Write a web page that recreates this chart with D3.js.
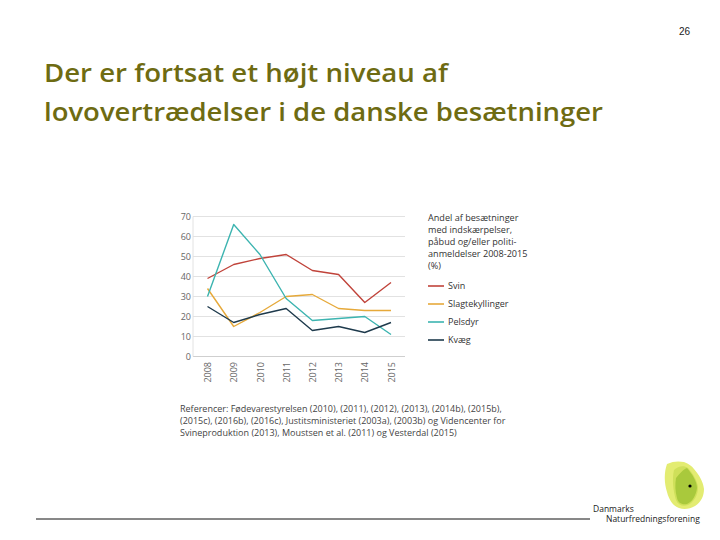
<!DOCTYPE html>
<html><head><meta charset="utf-8">
<script src="https://cdn.jsdelivr.net/npm/d3@7"></script>
<style>body{margin:0;background:#fff;} svg{display:block;}</style>
</head><body>
<svg id="c" width="720" height="540"></svg>
<script>
const years = ["2008","2009","2010","2011","2012","2013","2014","2015"];
const yTicks = [0,10,20,30,40,50,60,70];
const svin = [39,46,49,51,43,41,27,37];
const slagtekyllinger = [34,15,22,30,31,24,23,23];
const pelsdyr = [30,66,51,29,18,19,20,11];
const kvaeg = [25,17,21,24,13,15,12,17];
const seriesNames = ["Svin","Slagtekyllinger","Pelsdyr","Kvæg"];
const seriesColors = ["#c0433a","#e6a93a","#3cb4b0","#1e3a4c"];
const legendTitle = ["Andel af besætninger","med indskærpelser,","påbud og/eller politi-","anmeldelser 2008-2015","(%)"];
const references = ["Referencer: Fødevarestyrelsen (2010), (2011), (2012), (2013), (2014b), (2015b),",
 "(2015c), (2016b), (2016c), Justitsministeriet (2003a), (2003b) og Videncenter for",
 "Svineproduktion (2013), Moustsen et al. (2011) og Vesterdal (2015)"];
const titleLines = ["Der er fortsat et højt niveau af","lovovertrædelser i de danske besætninger"];

const svg = d3.select("#c");
const font = "'Open Sans', 'Noto Sans', sans-serif";

// page number
svg.append("text").attr("x",690).attr("y",35).attr("text-anchor","end")
  .attr("font-family","Liberation Sans, Arial, sans-serif").attr("font-size",10).attr("fill","#222").text("26");

// title
const tcol = "#6e6b12";
titleLines.forEach((t,i)=>{
  const el = svg.append("text").attr("x",44).attr("y",82+i*39)
    .attr("font-family","'Open Sans', 'Noto Sans', sans-serif").attr("font-size",25)
    .attr("font-weight","600").attr("fill",tcol).text(t);
  const target = i===0 ? 404 : 559;
  el.attr("textLength",target).attr("lengthAdjust","spacingAndGlyphs");
});

// chart
const x = d3.scalePoint().domain(years).range([207.5,391]);
const y = d3.scaleLinear().domain([0,70]).range([356.5,216.5]);

const g = svg.append("g");
g.selectAll("line.grid").data(yTicks).join("line").attr("class","grid")
  .attr("x1",193).attr("x2",405).attr("y1",d=>y(d)).attr("y2",d=>y(d))
  .attr("stroke",d=>d===0?"#cfcfcf":"#e2e2e2").attr("stroke-width",1);
g.append("line").attr("x1",193).attr("x2",193).attr("y1",y(70)).attr("y2",y(0))
  .attr("stroke","#e2e2e2");

const yAxis = d3.axisLeft(y).tickValues(yTicks).tickSize(0).tickPadding(0);
const ya = g.append("g").attr("transform","translate(191,0)").call(yAxis);
ya.select(".domain").remove();
ya.selectAll("text").attr("font-family",font).attr("font-size",9).attr("fill","#666");

const xAxis = d3.axisBottom(x).tickSize(0).tickPadding(0);
const xa = g.append("g").attr("transform","translate(0,360)").call(xAxis);
xa.select(".domain").remove();
xa.selectAll("text").attr("font-family",font).attr("font-size",9).attr("fill","#666")
  .attr("transform","rotate(-90)").attr("text-anchor","end").attr("dy","0.35em").attr("dx",0).attr("y",0).attr("x",-2);

const allSeries = [svin,slagtekyllinger,pelsdyr,kvaeg];
const line = d3.line().x((d,i)=>x(years[i])).y(d=>y(d));
g.selectAll("path.s").data(allSeries).join("path").attr("class","s")
  .attr("d",line).attr("fill","none").attr("stroke",(d,i)=>seriesColors[i])
  .attr("stroke-width",1.4).attr("stroke-linejoin","round");

// legend
legendTitle.forEach((t,i)=>{
  svg.append("text").attr("x",428).attr("y",221+i*12).attr("font-family",font)
    .attr("font-size",9.1).attr("fill","#333").text(t);
});
seriesNames.forEach((n,i)=>{
  const yy = 286 + i*18;
  svg.append("line").attr("x1",428).attr("x2",444).attr("y1",yy).attr("y2",yy)
    .attr("stroke",seriesColors[i]).attr("stroke-width",1.6);
  svg.append("text").attr("x",448).attr("y",yy+3.2).attr("font-family",font)
    .attr("font-size",9).attr("fill","#333").text(n);
});

// references
references.forEach((t,i)=>{
  svg.append("text").attr("x",180).attr("y",412+i*12).attr("font-family",font)
    .attr("font-size",9).attr("fill","#444").text(t);
});

// bottom line
svg.append("line").attr("x1",36).attr("x2",590).attr("y1",519).attr("y2",519)
  .attr("stroke","#111").attr("stroke-width",1);

// logo
svg.append("path").attr("d","M667,464 C673,461 679,461 684,462 C689,464 692,466 694,469 C699,475 703,481 704,489 C704,496 701,502 695,506 C690,509 684,510 679,508 C673,506 669,500 667,492 C664,483 664,472 667,464 Z")
  .attr("fill","#e3ec72");
svg.append("path").attr("d","M674,470 C678,466 684,465 688,468 C693,474 697,480 698,487 C698,495 694,502 688,505 C683,507 678,505 676,500 C673,491 672,479 674,470 Z")
  .attr("fill","#cfe05a");
svg.append("path").attr("d","M676,478 C680,473 684,469 687,468 C692,474 697,481 697,488 C696,496 692,502 687,504 C682,505 678,503 677,498 C675,491 675,484 676,478 Z")
  .attr("fill","#a9c93c");
svg.append("circle").attr("cx",690).attr("cy",486).attr("r",1.6).attr("fill","#000");
svg.append("text").attr("x",593).attr("y",512).attr("font-family",font).attr("font-size",8.5).attr("fill","#222").text("Danmarks");
svg.append("text").attr("x",606).attr("y",522).attr("font-family",font).attr("font-size",8.5).attr("fill","#222").text("Naturfredningsforening");
</script>
</body></html>
